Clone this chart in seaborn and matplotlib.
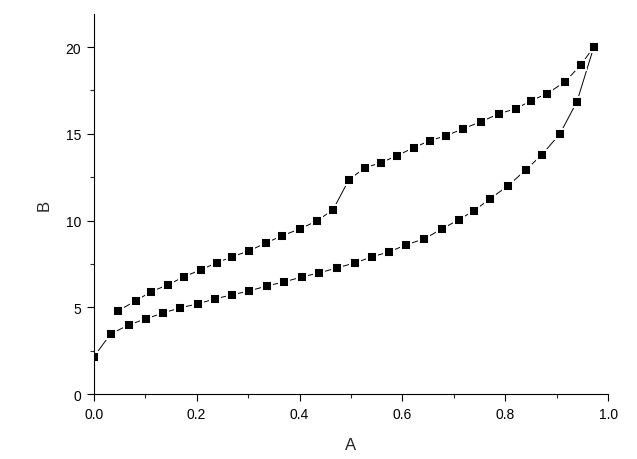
import numpy as np
import pandas as pd
import matplotlib
matplotlib.use("Agg")
import matplotlib.pyplot as plt
import seaborn as sns
from matplotlib.ticker import MultipleLocator

# ---------------- DATA ----------------
# upper branch (going up to the turning point)
a_up = [0.047, 0.082, 0.111, 0.144, 0.175, 0.208, 0.239, 0.269, 0.302, 0.335,
        0.366, 0.401, 0.434, 0.465, 0.496, 0.527, 0.558, 0.589, 0.622, 0.653,
        0.685, 0.718, 0.753, 0.788, 0.821, 0.850, 0.881, 0.916, 0.947, 0.972]
b_up = [4.79, 5.37, 5.89, 6.29, 6.75, 7.16, 7.56, 7.91, 8.25, 8.71,
        9.12, 9.52, 9.98, 10.62, 12.35, 13.04, 13.33, 13.73, 14.20, 14.60,
        14.89, 15.29, 15.70, 16.16, 16.45, 16.91, 17.31, 18.00, 18.98, 20.02]

# lower branch (ends just before the turning point)
a_down = [0.0, 0.033, 0.068, 0.101, 0.135, 0.167, 0.202, 0.235, 0.268, 0.302,
          0.337, 0.370, 0.405, 0.438, 0.473, 0.508, 0.541, 0.574, 0.607, 0.642,
          0.677, 0.709, 0.739, 0.770, 0.805, 0.840, 0.871, 0.906, 0.939]
b_down = [2.13, 3.46, 3.98, 4.33, 4.67, 4.96, 5.19, 5.48, 5.71, 5.94,
          6.23, 6.46, 6.75, 6.98, 7.27, 7.56, 7.91, 8.19, 8.60, 8.94,
          9.52, 10.04, 10.56, 11.25, 12.00, 12.93, 13.79, 15.00, 16.85]

# one continuous loop: up the upper branch, back down the lower one
df = pd.DataFrame({
    "A": a_up + a_down[::-1],
    "B": b_up + b_down[::-1],
})

# ---------------- PLOT ----------------
sns.set_style("ticks")
plt.rcParams["font.family"] = ["Liberation Sans", "DejaVu Sans"]

fig = plt.figure(figsize=(6.37, 4.60), dpi=100)
ax = fig.add_axes([0.147, 0.1413, 0.808, 0.826])

sns.lineplot(data=df, x="A", y="B", sort=False, estimator=None, ax=ax,
             color="black", linewidth=0.7, marker="s", markersize=7.9,
             markerfacecolor="black", markeredgecolor="white",
             markeredgewidth=1.4)

ax.set_xlim(0, 1.0)
ax.set_ylim(0, 21.9)
ax.xaxis.set_major_locator(MultipleLocator(0.2))
ax.xaxis.set_minor_locator(MultipleLocator(0.1))
ax.yaxis.set_major_locator(MultipleLocator(5))
ax.yaxis.set_minor_locator(MultipleLocator(2.5))
ax.xaxis.set_major_formatter(matplotlib.ticker.FormatStrFormatter("%.1f"))

ax.tick_params(which="major", direction="out", length=5, width=0.8,
               labelsize=10, colors="black", pad=4)
ax.tick_params(which="minor", direction="out", length=3, width=0.8)

sns.despine(ax=ax)
for side in ["left", "bottom"]:
    ax.spines[side].set_linewidth(0.8)
    ax.spines[side].set_color("black")

ax.set_xlabel("A", fontsize=12, labelpad=12)
ax.set_ylabel("B", fontsize=12, labelpad=10)

fig.savefig("out.png", dpi=100)
